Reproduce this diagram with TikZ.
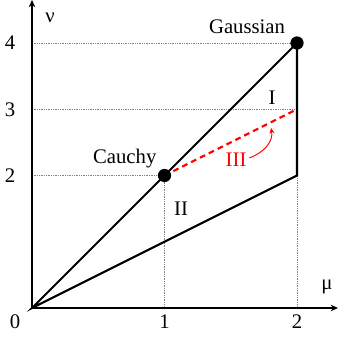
\documentclass[tikz,border=0pt]{standalone}
\usepackage{fontspec}
\setmainfont{Liberation Serif}
\usepackage{xcolor}
\usetikzlibrary{arrows.meta, positioning, calc}
\tikzset{
  axis/.style={line width=2.4pt, -{Stealth[length=2.2mm, width=2mm]}},
  edge/.style={line width=1.8pt, line join=miter},
  guide/.style={densely dotted, gray, line width=0.5pt},
  family/.style={circle, fill=black, inner sep=0pt, minimum size=4mm},
  lbl/.style={font=\fontsize{17.8}{21}\selectfont, inner sep=0pt},
  redpath/.style={red, dashed, dash pattern=on 5pt off 3.5pt, line width=1.8pt}
}
\begin{document}
\begin{tikzpicture}[x=4cm, y=2cm]
        \useasboundingbox (-0.2415,-0.4528) rectangle (2.3094,4.6491);

        % Points
        \coordinate (O) at (0,0);
        \coordinate (b) at (2,2);
        \coordinate (c) at (2,3);
        \coordinate (m1) at (1,0);
        \coordinate (m2) at (2,0);
        \coordinate (n2) at (0,2);
        \coordinate (n3) at (0,3);
        \coordinate (n4) at (0,4);

        % Guide lines
        \draw[guide] (n4) -- (2,4);
        \draw[guide] (n3) -- (c);
        \draw[guide] (n2) -- (1,2);
        \draw[guide] (m1) -- (1,2);
        \draw[guide] (m2) -- (b);

        % Axes
        \draw[axis] (O) -- (2.309,0) coordinate (xend);
        \draw[axis] (O) -- (0,4.649) coordinate (yend);

        % Region
        \draw[edge] (O) -- (2,4) -- (b) -- cycle;
        \draw[redpath] (1,2) -- (c);

        % Families
        \node[family] (cauchy) at (1,2) {};
        \node[family] (gauss)  at (2,4) {};

        % Labels
        \node[lbl] (nu) at (0.136,4.38) {ν};
        \node[lbl] (mu) at (2.226,0.317) {μ};
        \node[lbl] (zero) at (-0.128,-0.21) {0};
        \node[lbl] (one)  at (1,-0.21) {1};
        \node[lbl] (two)  at (2,-0.21) {2};
        \node[lbl] (four)  at (-0.166,4) {4};
        \node[lbl] (three) at (-0.166,3) {3};
        \node[lbl] (twoy)  at (-0.166,2) {2};
        \node[lbl] (glabel) at (1.623,4.24) {Gaussian};
        \node[lbl] (clabel) at (0.70,2.25) {Cauchy};
        \node[lbl] (regI)   at (1.811,3.17) {I};
        \node[lbl] (regII)  at (1.125,1.494) {II};
        \node[lbl, text=red] (regIII) at (1.54,2.234) {III};

        % Arrow to the dashed path
        \coordinate (tip) at (1.804,2.72);
        \draw[red, line width=0.8pt, -{Stealth[length=1.8mm, width=1.5mm]}]
          (regIII.east) ++(0.02,0.03) to[out=20, in=-80] (tip);
    \end{tikzpicture}
\end{document}
